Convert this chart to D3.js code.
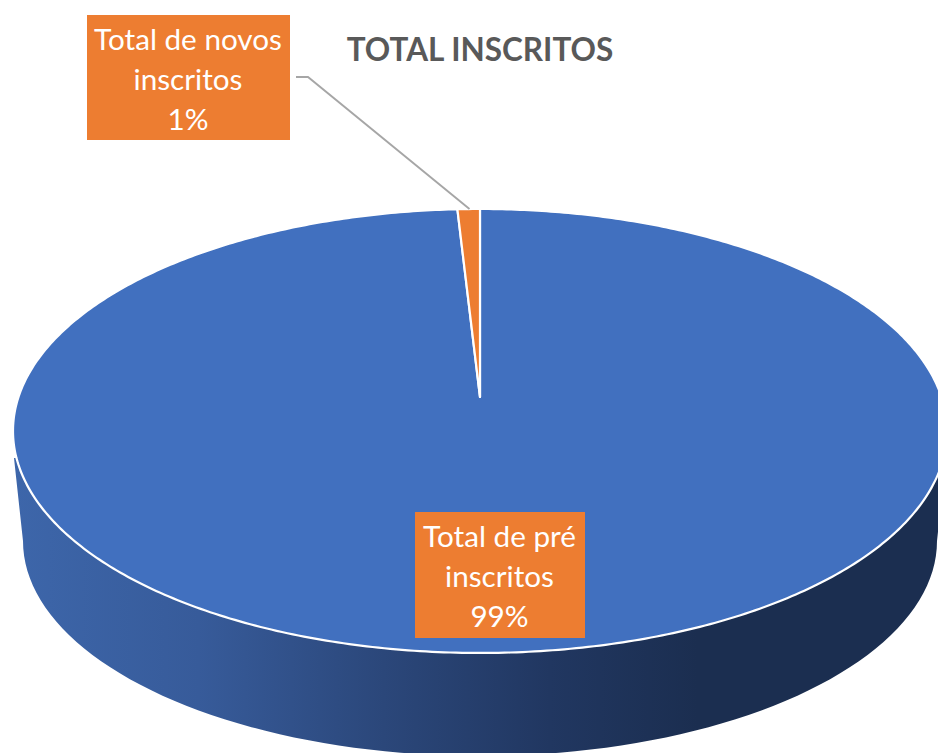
<!DOCTYPE html>
<html><head><meta charset="utf-8">
<script src="https://cdn.jsdelivr.net/npm/d3@7"></script>
<style>html,body{margin:0;padding:0;background:#fff;overflow:hidden}svg{display:block}</style>
</head><body><svg id="c" width="938" height="753"></svg>
<script>
const categories = ["Total de pré inscritos", "Total de novos inscritos"];
const values = [99.1, 0.9];
const percentLabels = ["99%", "1%"];
const labelLines = [["Total de pré", "inscritos", "99%"], ["Total de novos", "inscritos", "1%"]];
const titleText = "TOTAL INSCRITOS";
const sliceColors = ["#4170BF", "#ED7D31"];

const svg = d3.select("#c");
const defs = svg.append("defs");
const W = 938, cx = 480, apexY = 397, a = 461.5, b = 216.8, k = -0.153;
const lowCy = 541, lowRx = 457, lowRy = 215, sideTopY = 458;
const project = t => {
  const u = Math.sin(t), v = -Math.cos(t), w = 1 + k * v;
  return [cx + a * u / w, apexY + b * v / w];
};
const pie = d3.pie().sort(null).value(d => d)(values);

// side gradient
const grad = defs.append("linearGradient").attr("id", "side").attr("gradientUnits", "userSpaceOnUse")
  .attr("x1", 14).attr("x2", 938).attr("y1", 0).attr("y2", 0);
[[0, "#3D66AA"], [0.2, "#375B9A"], [0.4, "#2B477A"], [0.58, "#213761"], [0.74, "#1B2E50"], [1, "#1B2E50"]]
  .forEach(s => grad.append("stop").attr("offset", s[0]).attr("stop-color", s[1]));

// extruded side
const lowLine = d3.line();
const lowPts = d3.range(0, 181, 2).map(deg => {
  const r = deg * Math.PI / 180;
  return [cx - lowRx * Math.cos(r), lowCy + lowRy * Math.sin(r)];
});
const sidePts = [[cx - 466, sideTopY], ...lowPts, [cx + 466, sideTopY]];
svg.append("path").attr("d", lowLine(sidePts) + "Z").attr("fill", "url(#side)");

// top face
svg.selectAll("path.slice").data(pie).join("path").attr("class", "slice")
  .attr("d", d => {
    const n = Math.max(4, Math.ceil((d.endAngle - d.startAngle) * 90));
    const pts = d3.range(n + 1).map(i => project(d.startAngle + (d.endAngle - d.startAngle) * i / n));
    return d3.line()([[cx, apexY], ...pts]) + "Z";
  })
  .attr("fill", (d, i) => sliceColors[i])
  .attr("stroke", "#fff").attr("stroke-width", 2.2).attr("stroke-linejoin", "round");

// leader line
svg.append("path").attr("d", d3.line()([[296, 77], [308, 77], [469.5, 209]]))
  .attr("fill", "none").attr("stroke", "#A6A6A6").attr("stroke-width", 1.9);

// title
svg.append("text").attr("x", 480).attr("y", 61).attr("text-anchor", "middle")
  .attr("font-family", "Lato, 'Open Sans', sans-serif").attr("font-weight", 700).attr("font-size", 31.5)
  .attr("fill", "#595959").text(titleText);

// labels
const boxes = [{x: 415, y: 512, w: 170, h: 126}, {x: 87, y: 15, w: 203, h: 125}];
boxes.forEach((bx, i) => {
  const g = svg.append("g").attr("class", "label").attr("data-name", categories[i]);
  g.append("rect").attr("x", bx.x).attr("y", bx.y).attr("width", bx.w).attr("height", bx.h).attr("fill", sliceColors[1]);
  labelLines[i].forEach((ln, j) => {
    g.append("text").attr("x", bx.x + bx.w / 2 - 0.5).attr("y", bx.y + 35 + j * 40).attr("text-anchor", "middle")
      .attr("font-family", "Lato, 'Open Sans', sans-serif").attr("font-size", 29.7).attr("fill", "#fff").text(ln);
  });
});
</script></body></html>
